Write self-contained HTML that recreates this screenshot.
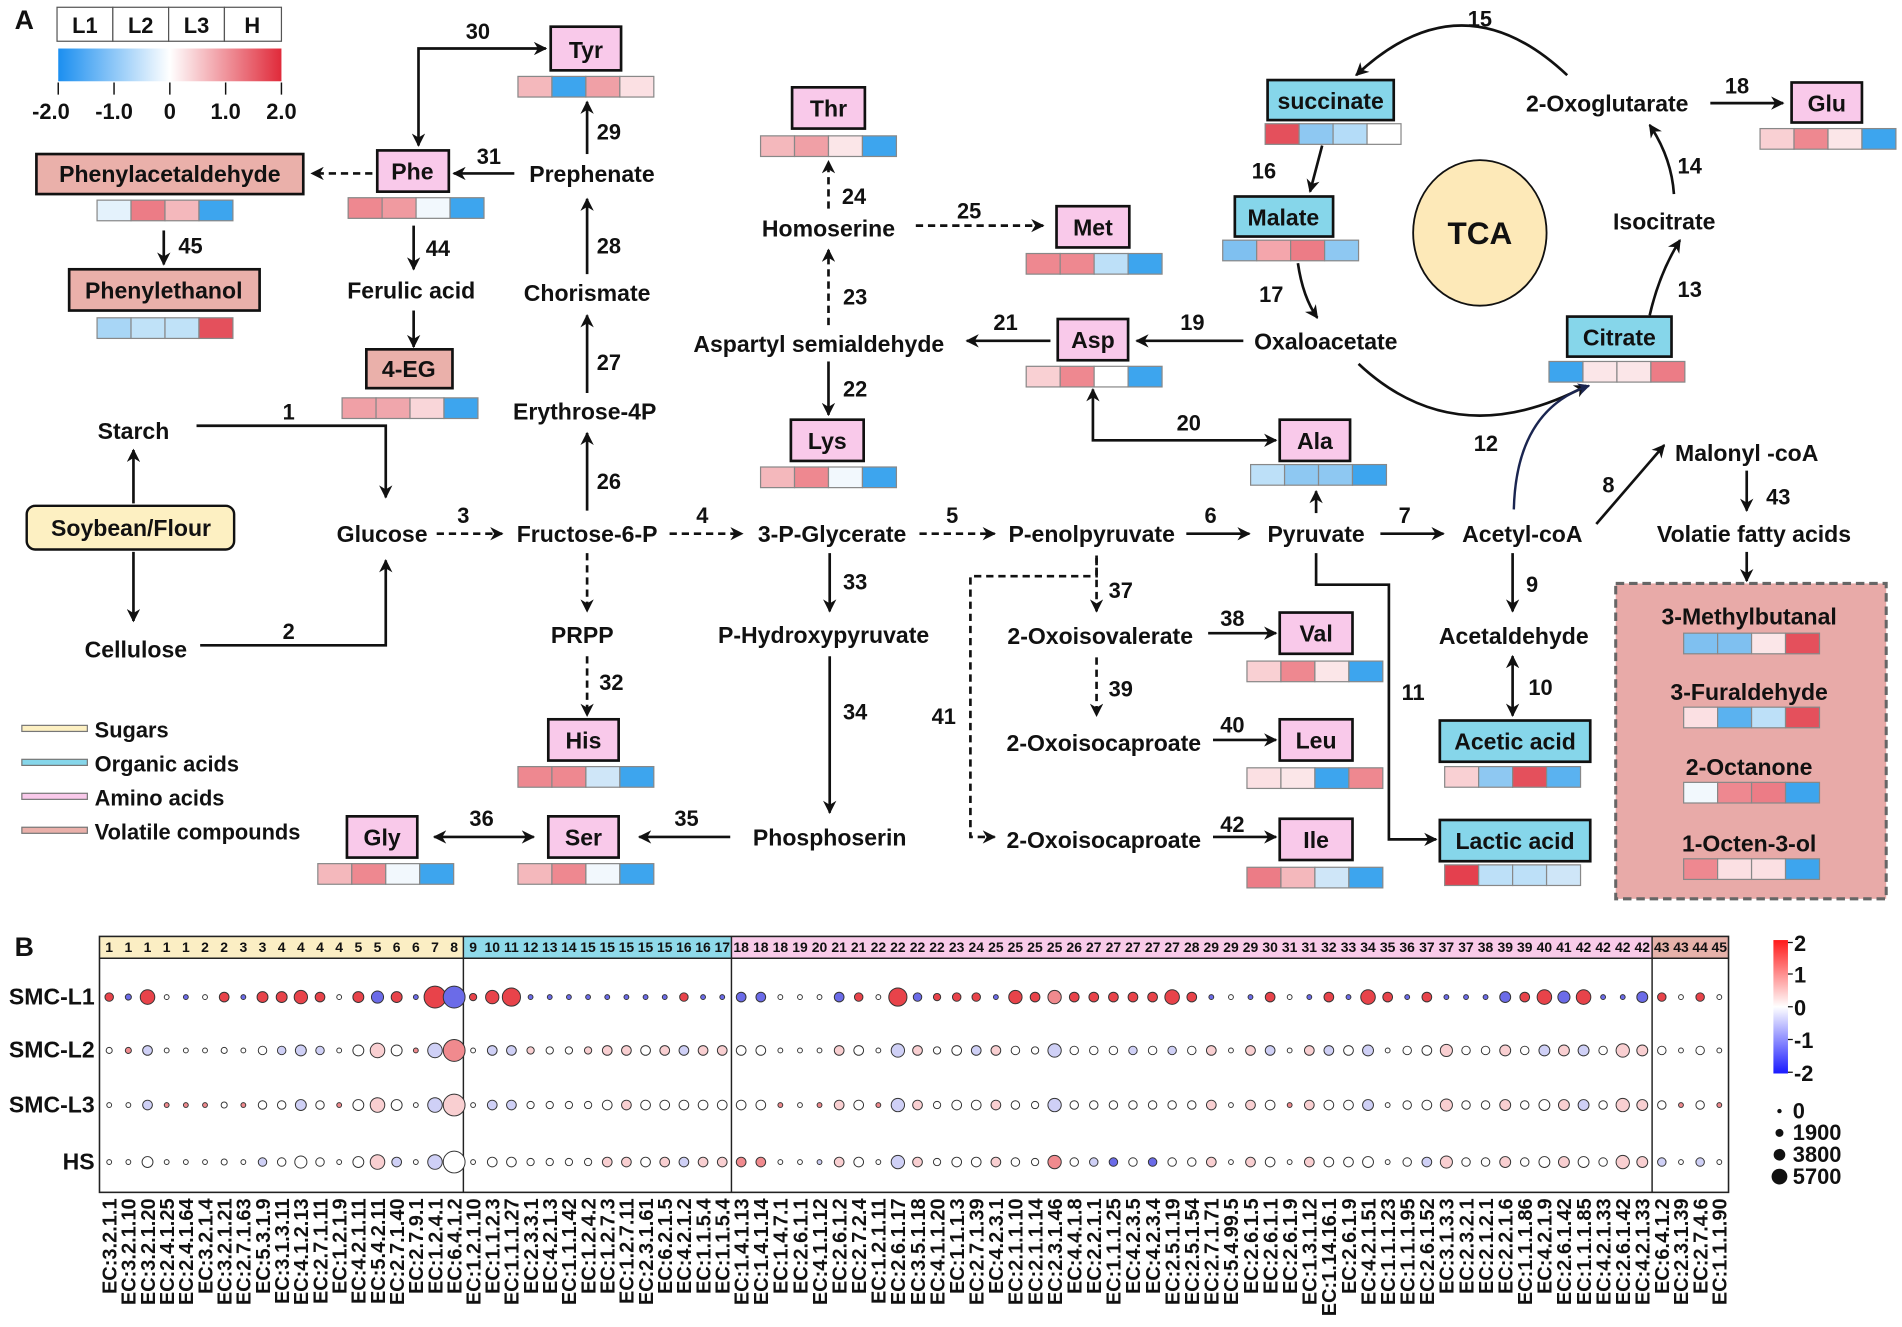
<!DOCTYPE html>
<html><head><meta charset="utf-8"><style>
html,body{margin:0;padding:0;background:#fff}
svg{display:block}
text{font-family:"Liberation Sans",Arial,sans-serif;font-weight:bold;fill:#111}
.n{font-size:19px}
.lb{font-size:18px}
.box{stroke:#111;stroke-width:2.2}
.am{fill:#f9c9ea}.oa{fill:#86d6ea}.vo{fill:#eab0aa}
.ln{stroke:#111;stroke-width:2.2;fill:none}
.ds{stroke-dasharray:6 4}
.hs rect{stroke:#888;stroke-width:1;height:17px;width:28px}
.d circle{stroke:#333;stroke-width:.8}
.R{fill:#e8434a}.r{fill:#f08a8e}.p{fill:#f9cfd1}.w{fill:#fff}.b{fill:#cfd0f6}.B{fill:#6b6be8}
.h{font-size:11.5px;font-weight:normal}
.ec{font-size:16.5px;font-weight:normal}
</style></head><body>
<svg width="1902" height="1327" viewBox="0 0 1568 1094" xmlns="http://www.w3.org/2000/svg">
<defs>
<marker id="a" viewBox="0 0 10 10" refX="9" refY="5" markerWidth="5" markerHeight="5" orient="auto-start-reverse"><path d="M0,0 L10,5 L0,10 L3,5z" fill="#111"/></marker>
<marker id="an" viewBox="0 0 10 10" refX="9" refY="5" markerWidth="5" markerHeight="5" orient="auto"><path d="M0,0 L10,5 L0,10 L3,5z" fill="#1a2550"/></marker>
<linearGradient id="g" x1="0" x2="1"><stop offset="0" stop-color="#1b8ff0"/><stop offset=".5" stop-color="#fff"/><stop offset="1" stop-color="#e02a3a"/></linearGradient>
<linearGradient id="g2" x1="0" y1="0" x2="0" y2="1"><stop offset="0" stop-color="#ff1a1a"/><stop offset=".5" stop-color="#fff"/><stop offset="1" stop-color="#1a1aff"/></linearGradient>
</defs>

<text x="12" y="24" style="font-size:22px">A</text>
<g fill="#fff" stroke="#555" stroke-width="1">
<rect x="47" y="6" width="46" height="28"/><rect x="93" y="6" width="46" height="28"/><rect x="139" y="6" width="46" height="28"/><rect x="185" y="6" width="47" height="28"/></g>
<g class="lb" text-anchor="middle"><text x="70" y="27">L1</text><text x="116" y="27">L2</text><text x="162" y="27">L3</text><text x="208" y="27">H</text></g>
<rect x="48" y="40" width="184" height="27" fill="url(#g)"/>
<g stroke="#111" stroke-width="1.2"><path d="M48,68V78M94,68V78M140,68V78M186,68V78M232,68V78"/></g>
<g class="lb" text-anchor="middle"><text x="42" y="98">-2.0</text><text x="94" y="98">-1.0</text><text x="140" y="98">0</text><text x="186" y="98">1.0</text><text x="232" y="98">2.0</text></g>

<ellipse cx="1220" cy="192" rx="55" ry="60" fill="#fde9b8" stroke="#111" stroke-width="1.5"/>
<text x="1220" y="201" text-anchor="middle" style="font-size:26px">TCA</text>

<rect x="1332" y="481" width="223" height="260" fill="#e8aaa8" stroke="#666" stroke-width="2.5" stroke-dasharray="7 4"/>

<rect x="22" y="417" width="171" height="36" rx="7" fill="#fdf0c2" stroke="#111" stroke-width="2"/>
<text x="108" y="442" text-anchor="middle" class="n">Soybean/Flour</text>

<g class="box">
<rect class="am" x="454" y="22" width="58" height="36"/>
<rect class="am" x="311" y="124" width="59" height="34"/>
<rect class="vo" x="30" y="127" width="220" height="33"/>
<rect class="vo" x="57" y="222" width="157" height="34"/>
<rect class="vo" x="302" y="288" width="71" height="32"/>
<rect class="am" x="653" y="72" width="60" height="34"/>
<rect class="am" x="871" y="170" width="60" height="34"/>
<rect class="am" x="872" y="263" width="58" height="34"/>
<rect class="am" x="652" y="346" width="60" height="34"/>
<rect class="am" x="1055" y="346" width="58" height="34"/>
<rect class="oa" x="1045" y="66" width="104" height="33"/>
<rect class="oa" x="1018" y="162" width="81" height="33"/>
<rect class="oa" x="1292" y="261" width="86" height="33"/>
<rect class="am" x="1477" y="68" width="58" height="33"/>
<rect class="am" x="1055" y="505" width="60" height="34"/>
<rect class="am" x="1055" y="593" width="60" height="34"/>
<rect class="am" x="1055" y="675" width="60" height="34"/>
<rect class="oa" x="1187" y="594" width="124" height="34"/>
<rect class="oa" x="1187" y="676" width="124" height="34"/>
<rect class="am" x="452" y="593" width="58" height="34"/>
<rect class="am" x="452" y="673" width="58" height="34"/>
<rect class="am" x="286" y="673" width="58" height="34"/>
</g>
<g class="n" text-anchor="middle">
<text x="483" y="48">Tyr</text><text x="340" y="148">Phe</text><text x="140" y="150">Phenylacetaldehyde</text>
<text x="135" y="246">Phenylethanol</text><text x="337" y="311">4-EG</text><text x="683" y="96">Thr</text>
<text x="901" y="194">Met</text><text x="901" y="287">Asp</text><text x="682" y="370">Lys</text>
<text x="1084" y="370">Ala</text><text x="1097" y="90">succinate</text><text x="1058" y="186">Malate</text>
<text x="1335" y="285">Citrate</text><text x="1506" y="92">Glu</text><text x="1085" y="529">Val</text>
<text x="1085" y="617">Leu</text><text x="1085" y="699">Ile</text><text x="1249" y="618">Acetic acid</text>
<text x="1249" y="700">Lactic acid</text><text x="481" y="617">His</text><text x="481" y="697">Ser</text><text x="315" y="697">Gly</text>
<text x="110" y="362">Starch</text><text x="112" y="542">Cellulose</text><text x="315" y="447">Glucose</text>
<text x="484" y="447">Fructose-6-P</text><text x="686" y="447">3-P-Glycerate</text><text x="900" y="447">P-enolpyruvate</text>
<text x="1085" y="447">Pyruvate</text><text x="1255" y="447">Acetyl-coA</text><text x="1440" y="380">Malonyl -coA</text>
<text x="1446" y="447">Volatie fatty acids</text><text x="1248" y="531">Acetaldehyde</text><text x="482" y="346">Erythrose-4P</text>
<text x="484" y="248">Chorismate</text><text x="488" y="150">Prephenate</text><text x="339" y="246">Ferulic acid</text>
<text x="683" y="195">Homoserine</text><text x="675" y="290">Aspartyl semialdehyde</text><text x="679" y="530">P-Hydroxypyruvate</text>
<text x="480" y="530">PRPP</text><text x="684" y="697">Phosphoserin</text><text x="907" y="531">2-Oxoisovalerate</text>
<text x="910" y="619">2-Oxoisocaproate</text><text x="910" y="699">2-Oxoisocaproate</text><text x="1093" y="288">Oxaloacetate</text>
<text x="1325" y="92">2-Oxoglutarate</text><text x="1372" y="189">Isocitrate</text>
<text x="1442" y="515">3-Methylbutanal</text><text x="1442" y="577">3-Furaldehyde</text><text x="1442" y="639">2-Octanone</text><text x="1442" y="702">1-Octen-3-ol</text>
</g>

<g class="hs">
<g transform="translate(427,63)"><rect x="0" fill="#f4b8bc"/><rect x="28" fill="#3da5ee"/><rect x="56" fill="#f0a0a6"/><rect x="84" fill="#fbe0e3"/></g>
<g transform="translate(287,163)"><rect x="0" fill="#ee8890"/><rect x="28" fill="#f09aa0"/><rect x="56" fill="#f2f8fd"/><rect x="84" fill="#3da5ee"/></g>
<g transform="translate(80,165)"><rect x="0" fill="#e4f2fc"/><rect x="28" fill="#ec7c86"/><rect x="56" fill="#f4b8bc"/><rect x="84" fill="#3da5ee"/></g>
<g transform="translate(80,262)"><rect x="0" fill="#a8d6f6"/><rect x="28" fill="#c0e2f8"/><rect x="56" fill="#c0e2f8"/><rect x="84" fill="#e4505c"/></g>
<g transform="translate(282,328)"><rect x="0" fill="#f0a0a6"/><rect x="28" fill="#f0a6ac"/><rect x="56" fill="#f9d6d9"/><rect x="84" fill="#3da5ee"/></g>
<g transform="translate(627,112)"><rect x="0" fill="#f4b8bc"/><rect x="28" fill="#f0a0a6"/><rect x="56" fill="#fbe6e8"/><rect x="84" fill="#3da5ee"/></g>
<g transform="translate(846,209)"><rect x="0" fill="#ee8890"/><rect x="28" fill="#ee8890"/><rect x="56" fill="#bde0f8"/><rect x="84" fill="#3da5ee"/></g>
<g transform="translate(846,302)"><rect x="0" fill="#f9d0d3"/><rect x="28" fill="#ee8890"/><rect x="56" fill="#fff"/><rect x="84" fill="#3da5ee"/></g>
<g transform="translate(627,385)"><rect x="0" fill="#f4b8bc"/><rect x="28" fill="#ee8890"/><rect x="56" fill="#f2f8fd"/><rect x="84" fill="#3da5ee"/></g>
<g transform="translate(1031,383)"><rect x="0" fill="#bde0f8"/><rect x="28" fill="#8ec8f2"/><rect x="56" fill="#8ec8f2"/><rect x="84" fill="#3da5ee"/></g>
<g transform="translate(1043,102)"><rect x="0" fill="#e4505c"/><rect x="28" fill="#8ec8f2"/><rect x="56" fill="#b4dcf8"/><rect x="84" fill="#fff"/></g>
<g transform="translate(1008,198)"><rect x="0" fill="#7fc0f0"/><rect x="28" fill="#f4a6ac"/><rect x="56" fill="#ec7c86"/><rect x="84" fill="#8ec8f2"/></g>
<g transform="translate(1277,298)"><rect x="0" fill="#3da5ee"/><rect x="28" fill="#fbe6e8"/><rect x="56" fill="#fbe6e8"/><rect x="84" fill="#ec7c86"/></g>
<g transform="translate(1451,106)"><rect x="0" fill="#f9d0d3"/><rect x="28" fill="#ee8890"/><rect x="56" fill="#fbe6e8"/><rect x="84" fill="#3da5ee"/></g>
<g transform="translate(1028,545)"><rect x="0" fill="#f9d0d3"/><rect x="28" fill="#ee8890"/><rect x="56" fill="#fbe6e8"/><rect x="84" fill="#3da5ee"/></g>
<g transform="translate(1028,633)"><rect x="0" fill="#fbe0e3"/><rect x="28" fill="#fbe6e8"/><rect x="56" fill="#3da5ee"/><rect x="84" fill="#ee8890"/></g>
<g transform="translate(1028,715)"><rect x="0" fill="#ec7c86"/><rect x="28" fill="#f4b8bc"/><rect x="56" fill="#cfe6f8"/><rect x="84" fill="#3da5ee"/></g>
<g transform="translate(1191,632)"><rect x="0" fill="#f9d0d3"/><rect x="28" fill="#8ec8f2"/><rect x="56" fill="#e4505c"/><rect x="84" fill="#5ab2f0"/></g>
<g transform="translate(1191,713)"><rect x="0" fill="#e4404e"/><rect x="28" fill="#bde0f8"/><rect x="56" fill="#bde0f8"/><rect x="84" fill="#cfe6f8"/></g>
<g transform="translate(427,632)"><rect x="0" fill="#ee8890"/><rect x="28" fill="#ee8890"/><rect x="56" fill="#cfe6f8"/><rect x="84" fill="#3da5ee"/></g>
<g transform="translate(427,712)"><rect x="0" fill="#f4b8bc"/><rect x="28" fill="#ee8890"/><rect x="56" fill="#f2f8fd"/><rect x="84" fill="#3da5ee"/></g>
<g transform="translate(262,712)"><rect x="0" fill="#f4b8bc"/><rect x="28" fill="#ee8890"/><rect x="56" fill="#f2f8fd"/><rect x="84" fill="#3da5ee"/></g>
<g transform="translate(1388,522)"><rect x="0" fill="#7fc0f0"/><rect x="28" fill="#7fc0f0"/><rect x="56" fill="#fbe6e8"/><rect x="84" fill="#e4505c"/></g>
<g transform="translate(1388,583)"><rect x="0" fill="#fbe0e3"/><rect x="28" fill="#5ab2f0"/><rect x="56" fill="#bde0f8"/><rect x="84" fill="#e4505c"/></g>
<g transform="translate(1388,645)"><rect x="0" fill="#f2f8fd"/><rect x="28" fill="#ee8890"/><rect x="56" fill="#ec7c86"/><rect x="84" fill="#3da5ee"/></g>
<g transform="translate(1388,708)"><rect x="0" fill="#ee8890"/><rect x="28" fill="#fbe0e3"/><rect x="56" fill="#fbe0e3"/><rect x="84" fill="#3da5ee"/></g>
</g>

<g class="ln" marker-end="url(#a)">
<path d="M162,351H318V410"/><path d="M165,532H318V462"/>
<path d="M110,415V371"/><path d="M110,455V512"/>
<path d="M978,440H1030"/><path d="M1138,440H1190"/>
<path d="M1316,432L1372,367"/><path d="M1440,388V421"/><path d="M1440,455V479"/>
<path d="M1247,456V504"/>
<path d="M1085,456V482H1145V692H1184"/>
<path d="M1085,423V405"/>
<path d="M1025,281H937"/><path d="M866,281H797"/>
<path d="M683,298V342"/><path d="M684,456V504"/><path d="M684,541V670"/>
<path d="M602,690H527"/>
<path d="M484,421V357"/><path d="M484,324V260"/><path d="M484,226V164"/><path d="M484,127V84"/>
<path d="M424,143H374"/><path d="M341,186V222"/><path d="M341,256V286"/>
<path d="M135,190V218"/>
<path d="M996,522H1052"/><path d="M1000,610H1052"/><path d="M1000,690H1052"/>
<path d="M1292,62Q1205,-20 1118,62"/>
<path d="M1090,120L1080,158"/><path d="M1070,217Q1074,245 1086,262"/>
<path d="M1120,300Q1200,375 1308,318"/>
<path d="M1360,260Q1368,225 1385,198"/><path d="M1380,160Q1378,130 1360,103"/>
<path d="M1410,85H1470"/>
</g>
<g class="ln" marker-start="url(#a)" marker-end="url(#a)">
<path d="M1247,541V590"/><path d="M901,321V363H1052"/><path d="M440,690H358"/>
<path d="M345,120V40H450"/>
</g>
<g class="ln ds" marker-end="url(#a)">
<path d="M360,440H414"/><path d="M552,440H612"/><path d="M758,440H820"/>
<path d="M683,268V206"/><path d="M683,172V133"/><path d="M755,186H860"/>
<path d="M307,143H257"/>
<path d="M484,456V504"/><path d="M484,541V590"/>
<path d="M904,458V504"/><path d="M904,542V590"/>
<path d="M904,460V475H800V690H820"/>
</g>
<path d="M1248,420Q1250,338 1310,318" stroke="#1a2550" stroke-width="2" fill="none" marker-end="url(#an)"/>

<g class="lb" text-anchor="middle">
<text x="238" y="346">1</text><text x="238" y="527">2</text><text x="382" y="431">3</text><text x="579" y="431">4</text>
<text x="785" y="431">5</text><text x="998" y="431">6</text><text x="1158" y="431">7</text><text x="1326" y="406">8</text>
<text x="1263" y="488">9</text><text x="1270" y="573">10</text><text x="1165" y="577">11</text><text x="1225" y="372">12</text>
<text x="1393" y="245">13</text><text x="1393" y="143">14</text><text x="1220" y="22">15</text><text x="1042" y="147">16</text>
<text x="1048" y="249">17</text><text x="1432" y="77">18</text><text x="983" y="272">19</text><text x="980" y="355">20</text>
<text x="829" y="272">21</text><text x="705" y="327">22</text><text x="705" y="251">23</text><text x="704" y="168">24</text>
<text x="799" y="180">25</text><text x="502" y="403">26</text><text x="502" y="305">27</text><text x="502" y="209">28</text>
<text x="502" y="115">29</text><text x="394" y="32">30</text><text x="403" y="135">31</text><text x="504" y="569">32</text>
<text x="705" y="486">33</text><text x="705" y="593">34</text><text x="566" y="681">35</text><text x="397" y="681">36</text>
<text x="924" y="493">37</text><text x="1016" y="516">38</text><text x="924" y="574">39</text><text x="1016" y="604">40</text>
<text x="778" y="597">41</text><text x="1016" y="686">42</text><text x="1466" y="416">43</text><text x="361" y="211">44</text><text x="157" y="209">45</text>
</g>

<g stroke="#777" stroke-width="1"><rect x="18" y="598" width="54" height="5" fill="#fdf0c2"/><rect x="18" y="626" width="54" height="5" fill="#86d6ea"/><rect x="18" y="654" width="54" height="5" fill="#f9c9ea"/><rect x="18" y="682" width="54" height="5" fill="#eab0aa"/></g>
<g class="lb"><text x="78" y="608">Sugars</text><text x="78" y="636">Organic acids</text><text x="78" y="664">Amino acids</text><text x="78" y="692">Volatile compounds</text></g>

<text x="12" y="788" style="font-size:22px">B</text>
<rect x="82" y="772" width="300" height="18" fill="#fbeec4"/><rect x="382" y="772" width="221" height="18" fill="#8fdaea"/>
<rect x="603" y="772" width="759" height="18" fill="#f9cbe9"/><rect x="1362" y="772" width="63" height="18" fill="#e6b2aa"/>
<rect x="82" y="772" width="1343" height="211" fill="none" stroke="#222" stroke-width="1.3"/>
<path d="M82,790H1425M382,772V983M603,772V983M1362,772V983" stroke="#222" stroke-width="1.2"/>
<g class="h" text-anchor="middle">
<text x="90" y="785">1</text><text x="105.8" y="785">1</text><text x="121.6" y="785">1</text><text x="137.4" y="785">1</text><text x="153.2" y="785">1</text><text x="169" y="785">2</text><text x="184.8" y="785">2</text><text x="200.6" y="785">3</text><text x="216.4" y="785">3</text><text x="232.2" y="785">4</text><text x="248" y="785">4</text><text x="263.8" y="785">4</text><text x="279.6" y="785">4</text><text x="295.4" y="785">5</text><text x="311.2" y="785">5</text><text x="327" y="785">6</text><text x="342.8" y="785">6</text><text x="358.6" y="785">7</text><text x="374.4" y="785">8</text>
<text x="390" y="785">9</text><text x="405.8" y="785">10</text><text x="421.6" y="785">11</text><text x="437.4" y="785">12</text><text x="453.2" y="785">13</text><text x="469" y="785">14</text><text x="484.8" y="785">15</text><text x="500.6" y="785">15</text><text x="516.4" y="785">15</text><text x="532.2" y="785">15</text><text x="548" y="785">15</text><text x="563.8" y="785">16</text><text x="579.6" y="785">16</text><text x="595.4" y="785">17</text>
<text x="611" y="785">18</text><text x="627.2" y="785">18</text><text x="643.3" y="785">18</text><text x="659.5" y="785">19</text><text x="675.6" y="785">20</text><text x="691.8" y="785">21</text><text x="707.9" y="785">21</text><text x="724.1" y="785">22</text><text x="740.2" y="785">22</text><text x="756.4" y="785">22</text><text x="772.5" y="785">22</text><text x="788.7" y="785">23</text><text x="804.8" y="785">24</text><text x="821" y="785">25</text><text x="837.1" y="785">25</text><text x="853.3" y="785">25</text><text x="869.4" y="785">25</text><text x="885.6" y="785">26</text><text x="901.7" y="785">27</text><text x="917.9" y="785">27</text><text x="934" y="785">27</text><text x="950.2" y="785">27</text><text x="966.3" y="785">27</text><text x="982.5" y="785">28</text><text x="998.6" y="785">29</text><text x="1014.8" y="785">29</text><text x="1030.9" y="785">29</text><text x="1047.1" y="785">30</text><text x="1063.2" y="785">31</text><text x="1079.4" y="785">31</text><text x="1095.5" y="785">32</text><text x="1111.7" y="785">33</text><text x="1127.8" y="785">34</text><text x="1144" y="785">35</text><text x="1160.1" y="785">36</text><text x="1176.3" y="785">37</text><text x="1192.4" y="785">37</text><text x="1208.6" y="785">37</text><text x="1224.7" y="785">38</text><text x="1240.9" y="785">39</text><text x="1257" y="785">39</text><text x="1273.2" y="785">40</text><text x="1289.3" y="785">41</text><text x="1305.5" y="785">42</text><text x="1321.6" y="785">42</text><text x="1337.8" y="785">42</text><text x="1353.9" y="785">42</text>
<text x="1370" y="785">43</text><text x="1385.8" y="785">43</text><text x="1401.6" y="785">44</text><text x="1417.4" y="785">45</text>
</g>
<g class="lb" text-anchor="end" style="font-size:19px"><text x="78" y="828">SMC-L1</text><text x="78" y="872">SMC-L2</text><text x="78" y="917">SMC-L3</text><text x="78" y="964">HS</text></g>

<g class="d" transform="translate(0,822)">
<circle cx="90" r="3.5" class="R"/><circle cx="105.8" r="2.5" class="B"/><circle cx="121.6" r="6" class="R"/><circle cx="137.4" r="2" class="w"/><circle cx="153.2" r="2" class="B"/><circle cx="169" r="2" class="w"/><circle cx="184.8" r="4" class="R"/><circle cx="200.6" r="2" class="B"/><circle cx="216.4" r="4.5" class="R"/><circle cx="232.2" r="4.5" class="R"/><circle cx="248" r="5.5" class="R"/><circle cx="263.8" r="4" class="R"/><circle cx="279.6" r="2" class="w"/><circle cx="295.4" r="4.5" class="R"/><circle cx="311.2" r="5" class="B"/><circle cx="327" r="4.5" class="R"/><circle cx="342.8" r="2" class="B"/><circle cx="358.6" r="9" class="R"/><circle cx="374.4" r="9" class="B"/>
<circle cx="390" r="3" class="R"/><circle cx="405.8" r="5.5" class="R"/><circle cx="421.6" r="7.5" class="R"/><circle cx="437.4" r="2" class="B"/><circle cx="453.2" r="2" class="B"/><circle cx="469" r="2" class="B"/><circle cx="484.8" r="2" class="B"/><circle cx="500.6" r="2" class="B"/><circle cx="516.4" r="2" class="B"/><circle cx="532.2" r="2" class="B"/><circle cx="548" r="2" class="B"/><circle cx="563.8" r="3.5" class="R"/><circle cx="579.6" r="2" class="B"/><circle cx="595.4" r="2" class="B"/>
<circle cx="611" r="4" class="B"/><circle cx="627.2" r="4" class="B"/><circle cx="643.3" r="2" class="w"/><circle cx="659.5" r="2" class="w"/><circle cx="675.6" r="2" class="w"/><circle cx="691.8" r="4" class="B"/><circle cx="707.9" r="3.5" class="R"/><circle cx="724.1" r="2" class="w"/><circle cx="740.2" r="7.5" class="R"/><circle cx="756.4" r="3.5" class="B"/><circle cx="772.5" r="3" class="R"/><circle cx="788.7" r="3.5" class="R"/><circle cx="804.8" r="3.5" class="R"/><circle cx="821" r="2" class="B"/><circle cx="837.1" r="5.5" class="R"/><circle cx="853.3" r="4" class="R"/><circle cx="869.4" r="5.5" class="r"/><circle cx="885.6" r="4" class="R"/><circle cx="901.7" r="4" class="R"/><circle cx="917.9" r="4" class="R"/><circle cx="934" r="4" class="R"/><circle cx="950.2" r="4" class="R"/><circle cx="966.3" r="6" class="R"/><circle cx="982.5" r="4" class="R"/><circle cx="998.6" r="2" class="B"/><circle cx="1014.8" r="2" class="w"/><circle cx="1030.9" r="2" class="B"/><circle cx="1047.1" r="4" class="R"/><circle cx="1063.2" r="2" class="w"/><circle cx="1079.4" r="2" class="B"/><circle cx="1095.5" r="4" class="R"/><circle cx="1111.7" r="2" class="B"/><circle cx="1127.8" r="6" class="R"/><circle cx="1144" r="4" class="R"/><circle cx="1160.1" r="2" class="B"/><circle cx="1176.3" r="4" class="R"/><circle cx="1192.4" r="2" class="B"/><circle cx="1208.6" r="2" class="B"/><circle cx="1224.7" r="2" class="B"/><circle cx="1240.9" r="4.5" class="B"/><circle cx="1257" r="4" class="R"/><circle cx="1273.2" r="6" class="R"/><circle cx="1289.3" r="5" class="B"/><circle cx="1305.5" r="6" class="R"/><circle cx="1321.6" r="2" class="B"/><circle cx="1337.8" r="2" class="B"/><circle cx="1353.9" r="4.5" class="B"/>
<circle cx="1370" r="3.5" class="R"/><circle cx="1385.8" r="2" class="w"/><circle cx="1401.6" r="3.5" class="R"/><circle cx="1417.4" r="2" class="w"/>
</g>
<g class="d" transform="translate(0,866)">
<circle cx="90" r="2.5" class="w"/><circle cx="105.8" r="2.5" class="r"/><circle cx="121.6" r="4" class="b"/><circle cx="137.4" r="2" class="w"/><circle cx="153.2" r="2" class="w"/><circle cx="169" r="2" class="w"/><circle cx="184.8" r="2.5" class="w"/><circle cx="200.6" r="2" class="w"/><circle cx="216.4" r="3.5" class="w"/><circle cx="232.2" r="3.5" class="b"/><circle cx="248" r="4.5" class="b"/><circle cx="263.8" r="3.5" class="b"/><circle cx="279.6" r="2" class="w"/><circle cx="295.4" r="4.5" class="w"/><circle cx="311.2" r="6" class="p"/><circle cx="327" r="4.5" class="w"/><circle cx="342.8" r="2" class="r"/><circle cx="358.6" r="6" class="b"/><circle cx="374.4" r="9" class="r"/>
<circle cx="390" r="2" class="w"/><circle cx="405.8" r="4" class="b"/><circle cx="421.6" r="4" class="b"/><circle cx="437.4" r="3" class="p"/><circle cx="453.2" r="3" class="w"/><circle cx="469" r="3" class="w"/><circle cx="484.8" r="3" class="p"/><circle cx="500.6" r="4" class="p"/><circle cx="516.4" r="4" class="p"/><circle cx="532.2" r="4" class="w"/><circle cx="548" r="4" class="p"/><circle cx="563.8" r="4" class="b"/><circle cx="579.6" r="4" class="p"/><circle cx="595.4" r="4" class="p"/>
<circle cx="611" r="4" class="w"/><circle cx="627.2" r="4" class="w"/><circle cx="643.3" r="2" class="w"/><circle cx="659.5" r="2" class="w"/><circle cx="675.6" r="2" class="w"/><circle cx="691.8" r="4" class="p"/><circle cx="707.9" r="4" class="w"/><circle cx="724.1" r="2" class="w"/><circle cx="740.2" r="5.5" class="b"/><circle cx="756.4" r="4" class="p"/><circle cx="772.5" r="3" class="w"/><circle cx="788.7" r="4" class="w"/><circle cx="804.8" r="4" class="b"/><circle cx="821" r="4" class="p"/><circle cx="837.1" r="3.5" class="w"/><circle cx="853.3" r="3" class="w"/><circle cx="869.4" r="5.5" class="b"/><circle cx="885.6" r="3.5" class="w"/><circle cx="901.7" r="3.5" class="w"/><circle cx="917.9" r="3.5" class="w"/><circle cx="934" r="3.5" class="b"/><circle cx="950.2" r="3.5" class="w"/><circle cx="966.3" r="3.5" class="b"/><circle cx="982.5" r="3.5" class="w"/><circle cx="998.6" r="4" class="p"/><circle cx="1014.8" r="2" class="w"/><circle cx="1030.9" r="4" class="p"/><circle cx="1047.1" r="4" class="b"/><circle cx="1063.2" r="2" class="w"/><circle cx="1079.4" r="4" class="p"/><circle cx="1095.5" r="4" class="b"/><circle cx="1111.7" r="4" class="w"/><circle cx="1127.8" r="4.5" class="b"/><circle cx="1144" r="2" class="w"/><circle cx="1160.1" r="3.5" class="w"/><circle cx="1176.3" r="4" class="w"/><circle cx="1192.4" r="5" class="p"/><circle cx="1208.6" r="3.5" class="w"/><circle cx="1224.7" r="3.5" class="w"/><circle cx="1240.9" r="4.5" class="p"/><circle cx="1257" r="3.5" class="w"/><circle cx="1273.2" r="4.5" class="b"/><circle cx="1289.3" r="4.5" class="p"/><circle cx="1305.5" r="4.5" class="b"/><circle cx="1321.6" r="3.5" class="w"/><circle cx="1337.8" r="5.5" class="p"/><circle cx="1353.9" r="4.5" class="p"/>
<circle cx="1370" r="3.5" class="w"/><circle cx="1385.8" r="2" class="w"/><circle cx="1401.6" r="3.5" class="w"/><circle cx="1417.4" r="2" class="w"/>
</g>
<g class="d" transform="translate(0,911)">
<circle cx="90" r="2" class="w"/><circle cx="105.8" r="2" class="w"/><circle cx="121.6" r="4" class="b"/><circle cx="137.4" r="2" class="r"/><circle cx="153.2" r="2" class="r"/><circle cx="169" r="2" class="r"/><circle cx="184.8" r="2.5" class="w"/><circle cx="200.6" r="2" class="r"/><circle cx="216.4" r="3.5" class="w"/><circle cx="232.2" r="3.5" class="w"/><circle cx="248" r="4.5" class="b"/><circle cx="263.8" r="3.5" class="w"/><circle cx="279.6" r="2" class="r"/><circle cx="295.4" r="4.5" class="w"/><circle cx="311.2" r="6" class="p"/><circle cx="327" r="4.5" class="w"/><circle cx="342.8" r="2" class="w"/><circle cx="358.6" r="6" class="b"/><circle cx="374.4" r="9" class="p"/>
<circle cx="390" r="2" class="w"/><circle cx="405.8" r="4" class="b"/><circle cx="421.6" r="4" class="b"/><circle cx="437.4" r="3" class="w"/><circle cx="453.2" r="3" class="w"/><circle cx="469" r="3" class="w"/><circle cx="484.8" r="3" class="w"/><circle cx="500.6" r="4" class="w"/><circle cx="516.4" r="4" class="p"/><circle cx="532.2" r="4" class="w"/><circle cx="548" r="4" class="w"/><circle cx="563.8" r="4" class="w"/><circle cx="579.6" r="4" class="w"/><circle cx="595.4" r="4" class="w"/>
<circle cx="611" r="4" class="w"/><circle cx="627.2" r="4" class="w"/><circle cx="643.3" r="2" class="r"/><circle cx="659.5" r="2" class="w"/><circle cx="675.6" r="2" class="r"/><circle cx="691.8" r="4" class="p"/><circle cx="707.9" r="4" class="w"/><circle cx="724.1" r="2" class="r"/><circle cx="740.2" r="5.5" class="b"/><circle cx="756.4" r="4" class="p"/><circle cx="772.5" r="3" class="w"/><circle cx="788.7" r="4" class="w"/><circle cx="804.8" r="4" class="w"/><circle cx="821" r="4" class="p"/><circle cx="837.1" r="3.5" class="w"/><circle cx="853.3" r="3" class="w"/><circle cx="869.4" r="5.5" class="b"/><circle cx="885.6" r="3.5" class="w"/><circle cx="901.7" r="3.5" class="w"/><circle cx="917.9" r="3.5" class="w"/><circle cx="934" r="3.5" class="w"/><circle cx="950.2" r="3.5" class="w"/><circle cx="966.3" r="3.5" class="w"/><circle cx="982.5" r="3.5" class="w"/><circle cx="998.6" r="4" class="p"/><circle cx="1014.8" r="2" class="w"/><circle cx="1030.9" r="4" class="p"/><circle cx="1047.1" r="4" class="w"/><circle cx="1063.2" r="2" class="r"/><circle cx="1079.4" r="4" class="p"/><circle cx="1095.5" r="4" class="w"/><circle cx="1111.7" r="4" class="w"/><circle cx="1127.8" r="4.5" class="b"/><circle cx="1144" r="2" class="w"/><circle cx="1160.1" r="3.5" class="w"/><circle cx="1176.3" r="4" class="w"/><circle cx="1192.4" r="5" class="p"/><circle cx="1208.6" r="3.5" class="w"/><circle cx="1224.7" r="3.5" class="w"/><circle cx="1240.9" r="4.5" class="p"/><circle cx="1257" r="3.5" class="w"/><circle cx="1273.2" r="4.5" class="w"/><circle cx="1289.3" r="4.5" class="p"/><circle cx="1305.5" r="4.5" class="b"/><circle cx="1321.6" r="3.5" class="w"/><circle cx="1337.8" r="5.5" class="p"/><circle cx="1353.9" r="4.5" class="p"/>
<circle cx="1370" r="3.5" class="w"/><circle cx="1385.8" r="2" class="r"/><circle cx="1401.6" r="3.5" class="w"/><circle cx="1417.4" r="2" class="r"/>
</g>
<g class="d" transform="translate(0,958)">
<circle cx="90" r="2" class="w"/><circle cx="105.8" r="2" class="w"/><circle cx="121.6" r="4.5" class="w"/><circle cx="137.4" r="2" class="w"/><circle cx="153.2" r="2" class="w"/><circle cx="169" r="2" class="w"/><circle cx="184.8" r="2.5" class="w"/><circle cx="200.6" r="2" class="w"/><circle cx="216.4" r="3.5" class="b"/><circle cx="232.2" r="3.5" class="w"/><circle cx="248" r="5" class="w"/><circle cx="263.8" r="3.5" class="w"/><circle cx="279.6" r="2" class="w"/><circle cx="295.4" r="4.5" class="w"/><circle cx="311.2" r="6" class="p"/><circle cx="327" r="4" class="b"/><circle cx="342.8" r="2" class="w"/><circle cx="358.6" r="6" class="b"/><circle cx="374.4" r="9" class="w"/>
<circle cx="390" r="2" class="w"/><circle cx="405.8" r="4" class="w"/><circle cx="421.6" r="4" class="w"/><circle cx="437.4" r="3" class="w"/><circle cx="453.2" r="3" class="w"/><circle cx="469" r="3" class="w"/><circle cx="484.8" r="3" class="w"/><circle cx="500.6" r="4" class="p"/><circle cx="516.4" r="4" class="p"/><circle cx="532.2" r="4" class="w"/><circle cx="548" r="4" class="p"/><circle cx="563.8" r="4" class="b"/><circle cx="579.6" r="4" class="p"/><circle cx="595.4" r="4" class="p"/>
<circle cx="611" r="4" class="r"/><circle cx="627.2" r="4" class="r"/><circle cx="643.3" r="2" class="w"/><circle cx="659.5" r="2" class="w"/><circle cx="675.6" r="2" class="b"/><circle cx="691.8" r="4" class="p"/><circle cx="707.9" r="4" class="w"/><circle cx="724.1" r="2" class="w"/><circle cx="740.2" r="5.5" class="b"/><circle cx="756.4" r="4" class="p"/><circle cx="772.5" r="3" class="w"/><circle cx="788.7" r="4" class="w"/><circle cx="804.8" r="4" class="w"/><circle cx="821" r="4" class="p"/><circle cx="837.1" r="3.5" class="w"/><circle cx="853.3" r="3" class="w"/><circle cx="869.4" r="5.5" class="r"/><circle cx="885.6" r="3.5" class="w"/><circle cx="901.7" r="3.5" class="b"/><circle cx="917.9" r="3.5" class="B"/><circle cx="934" r="3.5" class="w"/><circle cx="950.2" r="3.5" class="B"/><circle cx="966.3" r="3.5" class="w"/><circle cx="982.5" r="3.5" class="w"/><circle cx="998.6" r="4" class="p"/><circle cx="1014.8" r="2" class="w"/><circle cx="1030.9" r="4" class="p"/><circle cx="1047.1" r="4" class="w"/><circle cx="1063.2" r="2" class="w"/><circle cx="1079.4" r="4" class="p"/><circle cx="1095.5" r="4" class="w"/><circle cx="1111.7" r="4" class="w"/><circle cx="1127.8" r="4.5" class="w"/><circle cx="1144" r="2" class="w"/><circle cx="1160.1" r="3.5" class="w"/><circle cx="1176.3" r="4" class="b"/><circle cx="1192.4" r="5" class="p"/><circle cx="1208.6" r="3.5" class="w"/><circle cx="1224.7" r="3.5" class="w"/><circle cx="1240.9" r="4.5" class="p"/><circle cx="1257" r="3.5" class="w"/><circle cx="1273.2" r="4.5" class="w"/><circle cx="1289.3" r="4.5" class="p"/><circle cx="1305.5" r="4.5" class="w"/><circle cx="1321.6" r="3.5" class="w"/><circle cx="1337.8" r="5.5" class="p"/><circle cx="1353.9" r="4.5" class="p"/>
<circle cx="1370" r="3.5" class="b"/><circle cx="1385.8" r="2" class="w"/><circle cx="1401.6" r="3.5" class="b"/><circle cx="1417.4" r="2" class="w"/>
</g>

<g class="ec" text-anchor="end">
<text transform="translate(96,988) rotate(-90)">EC:3.2.1.1</text><text transform="translate(111.8,988) rotate(-90)">EC:3.2.1.10</text><text transform="translate(127.6,988) rotate(-90)">EC:3.2.1.20</text><text transform="translate(143.4,988) rotate(-90)">EC:2.4.1.25</text><text transform="translate(159.2,988) rotate(-90)">EC:2.4.1.64</text><text transform="translate(175,988) rotate(-90)">EC:3.2.1.4</text><text transform="translate(190.8,988) rotate(-90)">EC:3.2.1.21</text><text transform="translate(206.6,988) rotate(-90)">EC:2.7.1.63</text><text transform="translate(222.4,988) rotate(-90)">EC:5.3.1.9</text><text transform="translate(238.2,988) rotate(-90)">EC:3.1.3.11</text><text transform="translate(254,988) rotate(-90)">EC:4.1.2.13</text><text transform="translate(269.8,988) rotate(-90)">EC:2.7.1.11</text><text transform="translate(285.6,988) rotate(-90)">EC:1.2.1.9</text><text transform="translate(301.4,988) rotate(-90)">EC:4.2.1.11</text><text transform="translate(317.2,988) rotate(-90)">EC:5.4.2.11</text><text transform="translate(333,988) rotate(-90)">EC:2.7.1.40</text><text transform="translate(348.8,988) rotate(-90)">EC:2.7.9.1</text><text transform="translate(364.6,988) rotate(-90)">EC:1.2.4.1</text><text transform="translate(380.4,988) rotate(-90)">EC:6.4.1.2</text>
<text transform="translate(396,988) rotate(-90)">EC:1.2.1.10</text><text transform="translate(411.8,988) rotate(-90)">EC:1.1.2.3</text><text transform="translate(427.6,988) rotate(-90)">EC:1.1.1.27</text><text transform="translate(443.4,988) rotate(-90)">EC:2.3.3.1</text><text transform="translate(459.2,988) rotate(-90)">EC:4.2.1.3</text><text transform="translate(475,988) rotate(-90)">EC:1.1.1.42</text><text transform="translate(490.8,988) rotate(-90)">EC:1.2.4.2</text><text transform="translate(506.6,988) rotate(-90)">EC:1.2.7.3</text><text transform="translate(522.4,988) rotate(-90)">EC:1.2.7.11</text><text transform="translate(538.2,988) rotate(-90)">EC:2.3.1.61</text><text transform="translate(554,988) rotate(-90)">EC:6.2.1.5</text><text transform="translate(569.8,988) rotate(-90)">EC:4.2.1.2</text><text transform="translate(585.6,988) rotate(-90)">EC:1.1.5.4</text><text transform="translate(601.4,988) rotate(-90)">EC:1.1.5.4</text>
<text transform="translate(617,988) rotate(-90)">EC:1.4.1.13</text><text transform="translate(633.2,988) rotate(-90)">EC:1.4.1.14</text><text transform="translate(649.3,988) rotate(-90)">EC:1.4.7.1</text><text transform="translate(665.5,988) rotate(-90)">EC:2.6.1.1</text><text transform="translate(681.6,988) rotate(-90)">EC:4.1.1.12</text><text transform="translate(697.8,988) rotate(-90)">EC:2.6.1.2</text><text transform="translate(713.9,988) rotate(-90)">EC:2.7.2.4</text><text transform="translate(730.1,988) rotate(-90)">EC:1.2.1.11</text><text transform="translate(746.2,988) rotate(-90)">EC:2.6.1.17</text><text transform="translate(762.4,988) rotate(-90)">EC:3.5.1.18</text><text transform="translate(778.5,988) rotate(-90)">EC:4.1.1.20</text><text transform="translate(794.7,988) rotate(-90)">EC:1.1.1.3</text><text transform="translate(810.8,988) rotate(-90)">EC:2.7.1.39</text><text transform="translate(827,988) rotate(-90)">EC:4.2.3.1</text><text transform="translate(843.1,988) rotate(-90)">EC:2.1.1.10</text><text transform="translate(859.3,988) rotate(-90)">EC:2.1.1.14</text><text transform="translate(875.4,988) rotate(-90)">EC:2.3.1.46</text><text transform="translate(891.6,988) rotate(-90)">EC:4.4.1.8</text><text transform="translate(907.7,988) rotate(-90)">EC:2.2.1.1</text><text transform="translate(923.9,988) rotate(-90)">EC:1.1.1.25</text><text transform="translate(940,988) rotate(-90)">EC:4.2.3.5</text><text transform="translate(956.2,988) rotate(-90)">EC:4.2.3.4</text><text transform="translate(972.3,988) rotate(-90)">EC:2.5.1.19</text><text transform="translate(988.5,988) rotate(-90)">EC:2.5.1.54</text><text transform="translate(1004.6,988) rotate(-90)">EC:2.7.1.71</text><text transform="translate(1020.8,988) rotate(-90)">EC:5.4.99.5</text><text transform="translate(1036.9,988) rotate(-90)">EC:2.6.1.5</text><text transform="translate(1053.1,988) rotate(-90)">EC:2.6.1.1</text><text transform="translate(1069.2,988) rotate(-90)">EC:2.6.1.9</text><text transform="translate(1085.4,988) rotate(-90)">EC:1.3.1.12</text><text transform="translate(1101.5,988) rotate(-90)">EC:1.14.16.1</text><text transform="translate(1117.7,988) rotate(-90)">EC:2.6.1.9</text><text transform="translate(1133.8,988) rotate(-90)">EC:4.2.1.51</text><text transform="translate(1150,988) rotate(-90)">EC:1.1.1.23</text><text transform="translate(1166.1,988) rotate(-90)">EC:1.1.1.95</text><text transform="translate(1182.3,988) rotate(-90)">EC:2.6.1.52</text><text transform="translate(1198.4,988) rotate(-90)">EC:3.1.3.3</text><text transform="translate(1214.6,988) rotate(-90)">EC:2.3.2.1</text><text transform="translate(1230.7,988) rotate(-90)">EC:2.1.2.1</text><text transform="translate(1246.9,988) rotate(-90)">EC:2.2.1.6</text><text transform="translate(1263,988) rotate(-90)">EC:1.1.1.86</text><text transform="translate(1279.2,988) rotate(-90)">EC:4.2.1.9</text><text transform="translate(1295.3,988) rotate(-90)">EC:2.6.1.42</text><text transform="translate(1311.5,988) rotate(-90)">EC:1.1.1.85</text><text transform="translate(1327.6,988) rotate(-90)">EC:4.2.1.33</text><text transform="translate(1343.8,988) rotate(-90)">EC:2.6.1.42</text><text transform="translate(1359.9,988) rotate(-90)">EC:4.2.1.33</text>
<text transform="translate(1376,988) rotate(-90)">EC:6.4.1.2</text><text transform="translate(1391.8,988) rotate(-90)">EC:2.3.1.39</text><text transform="translate(1407.6,988) rotate(-90)">EC:2.7.4.6</text><text transform="translate(1423.4,988) rotate(-90)">EC:1.1.1.90</text>
</g>

<rect x="1462" y="775" width="12" height="110" fill="url(#g2)"/>
<g stroke="#111" stroke-width="1"><path d="M1474,777h4M1474,803h4M1474,830h4M1474,857h4M1474,884h4"/></g>
<g class="lb"><text x="1479" y="784">2</text><text x="1479" y="810">1</text><text x="1479" y="837">0</text><text x="1479" y="864">-1</text><text x="1479" y="891">-2</text></g>
<g fill="#111"><circle cx="1467" cy="916" r="1.8"/><circle cx="1467" cy="934" r="3.3"/><circle cx="1467" cy="952" r="4.8"/><circle cx="1467" cy="970" r="6.5"/></g>
<g class="lb"><text x="1478" y="922">0</text><text x="1478" y="940">1900</text><text x="1478" y="958">3800</text><text x="1478" y="976">5700</text></g>
</svg>
</body></html>
